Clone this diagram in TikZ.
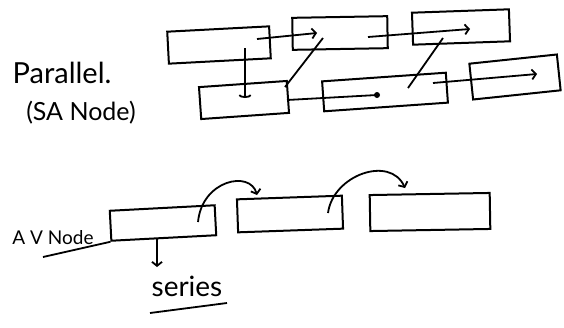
\documentclass[tikz,border=0pt]{standalone}
\usepackage{fontspec}
\setmainfont{Lato}
\usetikzlibrary{arrows.meta,calc}
\tikzset{
  box/.style={draw,line width=2pt,rectangle,inner sep=0pt},
  link/.style={line width=1.8pt},
  arr/.style={link,-{Straight Barb[length=4pt,width=10pt,line width=1.8pt]}},
  cup/.style={link,-{Arc Barb[length=3pt,width=13pt,line width=1.8pt]}},
  hand/.style={inner sep=0pt,anchor=center},
}
\begin{document}
\begin{tikzpicture}[x=1pt,y=-1pt]
\useasboundingbox (0,0) rectangle (564,327);
% parallel (SA node) boxes
\node[box,minimum width=102pt,minimum height=32pt,rotate=3] (A) at (219,45) {};
\node[box,minimum width=95pt,minimum height=32pt,rotate=1] (B) at (340,33) {};
\node[box,minimum width=97pt,minimum height=32pt,rotate=2] (C) at (461,27) {};
\node[box,minimum width=88pt,minimum height=32pt,rotate=4] (D) at (244,100) {};
\node[box,minimum width=124pt,minimum height=30pt,rotate=4] (E) at (385,92) {};
\node[box,minimum width=88pt,minimum height=36pt,rotate=6] (F) at (515,77) {};
\draw[arr] ($(A)+(38,-6)$) -- ($(B)+(-23,0)$);
\draw[arr] ($(B)+(28,4)$) -- ($(C)+(9,2)$);
\draw[cup] ($(A)+(26,3)$) -- ($(D)+(1,-2)$);
\draw[link] ($(D)+(41,-13)$) -- ($(B)+(-17,5)$);
\draw[link] ($(D)+(43,0)$) -- ($(E)+(-8,3)$);
\fill ($(E)+(-8,3)$) circle (3pt);
\draw[link] ($(E)+(23,-4)$) -- ($(C)+(-18,11)$);
\draw[arr] ($(E)+(48,-9)$) -- ($(F)+(22,-3)$);
\node[hand,font=\fontsize{29}{29}\selectfont] (par) at (62,73) {Parallel.};
\node[hand,font=\fontsize{25}{25}\selectfont] (sa) at (81,113) {(SA Node)};
% series (AV node) boxes
\node[box,minimum width=105pt,minimum height=30pt,rotate=3] (G) at (163,223) {};
\node[box,minimum width=105pt,minimum height=33pt,rotate=2] (H) at (290,214) {};
\node[box,minimum width=120pt,minimum height=36pt,rotate=1] (I) at (430,212) {};
\draw[arr] ($(G)+(35,-1)$) .. controls ($(G)+(39,-43)$) and ($(H)+(-40,-44)$) .. ($(H)+(-33,-19)$);
\draw[arr] ($(H)+(38,-1)$) .. controls ($(H)+(43,-39)$) and ($(I)+(-40,-57)$) .. ($(I)+(-25,-24)$);
\draw[arr] ($(G)+(-6,15)$) -- ($(G)+(-6,44)$);
\node[hand,font=\fontsize{19}{19}\selectfont] (av) at (53,238) {A V Node};
\coordinate (avu) at (43,257);
\draw[link] (avu) -- (G.south west);
\node[hand,font=\fontsize{28}{28}\selectfont] (ser) at (187,286) {series};
\draw[link] ($(ser)+(-37,27)$) -- ($(ser)+(40,17)$);
\end{tikzpicture}
\end{document}
